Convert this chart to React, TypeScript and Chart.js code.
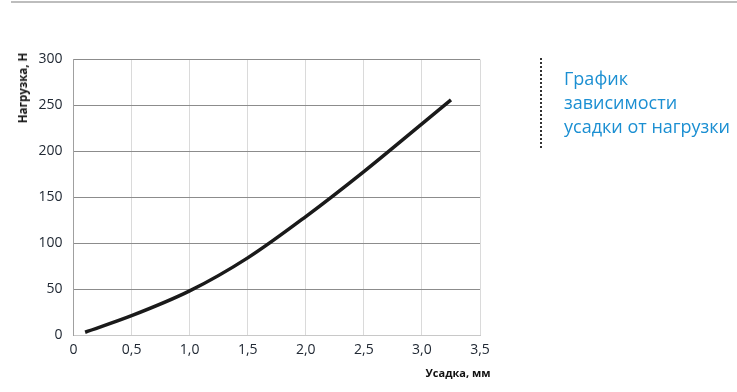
import React, { useEffect, useRef } from "react";
import { Chart, registerables } from "chart.js";

Chart.register(...registerables);

const shrinkMm: number[] = [0.1, 0.5, 1.0, 1.5, 2.0, 2.5, 3.0, 3.25];
const loadN: number[] = [3, 21, 48, 84, 129, 178, 230, 256];
const xTicks: number[] = [0, 0.5, 1.0, 1.5, 2.0, 2.5, 3.0, 3.5];
const yTicks: number[] = [0, 50, 100, 150, 200, 250, 300];
const xTitle = "Усадка, мм";
const yTitle = "Нагрузка, Н";
const sideTitle = ["График", "зависимости", "усадки от нагрузки"];

export default function App() {
  const ref = useRef<HTMLCanvasElement | null>(null);

  useEffect(() => {
    if (!ref.current) return;
    const tickFont = { family: "'Open Sans', sans-serif", size: 14 };
    const chart = new Chart(ref.current, {
      type: "line",
      data: {
        datasets: [
          {
            data: shrinkMm.map((x, i) => ({ x, y: loadN[i] })),
            borderColor: "#1a1a1a",
            borderWidth: 3.5,
            pointRadius: 0,
            cubicInterpolationMode: "monotone",
            fill: false,
          },
        ],
      },
      options: {
        animation: false,
        responsive: false,
        maintainAspectRatio: false,
        layout: { padding: { top: 59.5, right: 257, left: 0, bottom: 0 } },
        plugins: { legend: { display: false }, tooltip: { enabled: false } },
        scales: {
          x: {
            type: "linear",
            min: xTicks[0],
            max: xTicks[xTicks.length - 1],
            afterBuildTicks: (s: any) => {
              s.ticks = xTicks.map((v) => ({ value: v }));
            },
            afterFit: (s: any) => {
              s.height = 57;
            },
            ticks: {
              font: tickFont,
              color: "#222a35",
              padding: 7,
              callback: (v: any) => (v === 0 ? "0" : Number(v).toFixed(1).replace(".", ",")),
            },
            grid: { color: "#dadada", drawTicks: false, lineWidth: 1 },
            border: { color: "#c8c8c8", width: 1 },
          },
          y: {
            type: "linear",
            min: yTicks[0],
            max: yTicks[yTicks.length - 1],
            afterBuildTicks: (s: any) => {
              s.ticks = yTicks.map((v) => ({ value: v }));
            },
            afterFit: (s: any) => {
              s.width = 73.5;
            },
            ticks: { font: tickFont, color: "#222a35", padding: 11 },
            grid: { color: "#8c8c8c", drawTicks: false, lineWidth: 1 },
            border: { color: "#a0a0a0", width: 1 },
          },
        },
      },
    } as any);
    return () => chart.destroy();
  }, []);

  return (
    <div
      style={{
        position: "absolute",
        left: 0,
        top: 0,
        width: 737,
        height: 392,
        background: "#fff",
        overflow: "hidden",
        fontFamily: "'Open Sans', sans-serif",
      }}
    >
      <div
        style={{
          position: "absolute",
          left: 11,
          top: 1,
          width: 726,
          height: 2,
          background: "#bdbdbd",
        }}
      />
      <canvas
        ref={ref}
        width={737}
        height={392}
        style={{ position: "absolute", left: 0, top: 0, width: 737, height: 392 }}
      />
      <div
        style={{
          position: "absolute",
          left: 22.5,
          top: 88,
          transform: "translate(-50%, -50%) rotate(-90deg)",
          whiteSpace: "nowrap",
          fontWeight: 700,
          fontSize: 11.5,
          color: "#111",
          lineHeight: "14px",
        }}
      >
        {yTitle}
      </div>
      <div
        style={{
          position: "absolute",
          left: 458,
          top: 373,
          transform: "translate(-50%, -50%)",
          whiteSpace: "nowrap",
          fontWeight: 700,
          fontSize: 11,
          color: "#111",
          lineHeight: "14px",
        }}
      >
        {xTitle}
      </div>
      <div
        style={{
          position: "absolute",
          left: 540,
          top: 58,
          height: 90,
          width: 0,
          borderLeft: "2px dotted #333",
        }}
      />
      <div
        style={{
          position: "absolute",
          left: 564,
          top: 66,
          fontSize: 18,
          lineHeight: "24px",
          color: "#1b8fd2",
          whiteSpace: "nowrap",
        }}
      >
        {sideTitle.map((t, i) => (
          <div key={i}>{t}</div>
        ))}
      </div>
    </div>
  );
}
